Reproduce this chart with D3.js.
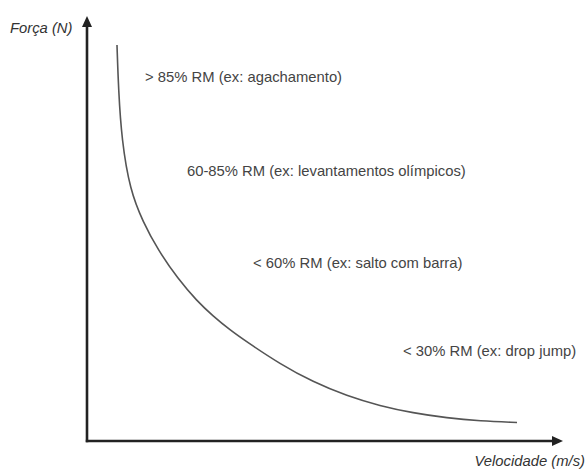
<!DOCTYPE html>
<html>
<head>
<meta charset="utf-8">
<script src="https://cdn.jsdelivr.net/npm/d3@7"></script>
<style>
  html, body { margin: 0; padding: 0; background: #fff; }
  svg { display: block; }
  text { font-family: "Liberation Sans", Arial, Helvetica, sans-serif; }
</style>
</head>
<body>
<svg id="chart" width="587" height="469"></svg>
<script>
// Force-velocity curve (arbitrary units, 0-100 on both axes)
const velocity = [6.30, 6.62, 7.29, 9.03, 11.76, 14.92, 19.12, 23.11, 26.47, 30.04, 33.61, 40.55, 47.48, 54.62, 61.55, 68.49, 75.63, 82.56, 90.34];
const force    = [93.18, 82.59, 70.82, 59.06, 51.53, 44.94, 38.12, 32.94, 29.41, 26.12, 23.29, 18.12, 13.88, 10.59, 8.24, 6.59, 5.41, 4.71, 4.35];

// Zone annotations: text and position (in data units)
const zoneLabels = [
  "> 85% RM (ex: agachamento)",
  "60-85% RM (ex: levantamentos olímpicos)",
  "< 60% RM (ex: salto com barra)",
  "< 30% RM (ex: drop jump)"
];
const zoneX = [12.2, 21.0, 34.9, 66.4];
const zoneY = [84.5, 62.4, 40.7, 20.0];

const yTitle = "Força (N)";
const xTitle = "Velocidade (m/s)";

const svg = d3.select("#chart");
const x = d3.scaleLinear().domain([0, 100]).range([87, 563]);
const y = d3.scaleLinear().domain([0, 100]).range([441, 16]);

const axisColor = "#222";
const arrowLen = 11, arrowHalf = 5;

// Axes (no ticks)
const gx = svg.append("g")
  .attr("transform", `translate(0,${y(0)})`)
  .call(d3.axisBottom(x).tickValues([]).tickSizeOuter(0));
gx.select(".domain")
  .attr("d", `M${x(0) - 1.2},0H${x(100) - arrowLen + 1}`)
  .attr("stroke", axisColor).attr("stroke-width", 2.6);

const gy = svg.append("g")
  .attr("transform", `translate(${x(0)},0)`)
  .call(d3.axisLeft(y).tickValues([]).tickSizeOuter(0));
gy.select(".domain")
  .attr("d", `M0,${y(0) + 1.2}V${y(100) + arrowLen - 1}`)
  .attr("stroke", axisColor).attr("stroke-width", 2.6);

// Arrowheads
svg.append("path")
  .attr("d", `M${x(100)},${y(0)}L${x(100) - arrowLen},${y(0) - arrowHalf}L${x(100) - arrowLen},${y(0) + arrowHalf}Z`)
  .attr("fill", axisColor);
svg.append("path")
  .attr("d", `M${x(0)},${y(100)}L${x(0) - arrowHalf},${y(100) + arrowLen}L${x(0) + arrowHalf},${y(100) + arrowLen}Z`)
  .attr("fill", axisColor);

// Curve
const pts = velocity.map((v, i) => [v, force[i]]);
const line = d3.line()
  .x(d => x(d[0]))
  .y(d => y(d[1]))
  .curve(d3.curveBasis);
svg.append("path")
  .datum(pts)
  .attr("d", line)
  .attr("fill", "none")
  .attr("stroke", "#555")
  .attr("stroke-width", 1.6);

// Zone labels
svg.selectAll("text.zone")
  .data(zoneLabels)
  .join("text")
  .attr("class", "zone")
  .attr("x", (d, i) => x(zoneX[i]))
  .attr("y", (d, i) => y(zoneY[i]))
  .attr("font-size", 14.8)
  .attr("fill", "#444")
  .text(d => d);

// Axis titles
svg.append("text")
  .attr("x", 10).attr("y", 33)
  .attr("font-size", 14.8)
  .attr("font-style", "italic")
  .attr("fill", "#333")
  .text(yTitle);

svg.append("text")
  .attr("x", 585).attr("y", 466)
  .attr("text-anchor", "end")
  .attr("font-size", 14.8)
  .attr("font-style", "italic")
  .attr("fill", "#333")
  .text(xTitle);
</script>
</body>
</html>
